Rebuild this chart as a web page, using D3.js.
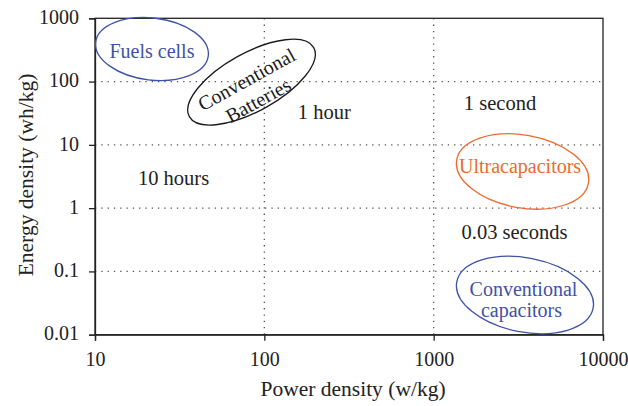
<!DOCTYPE html>
<html><head><meta charset="utf-8">
<script src="https://cdn.jsdelivr.net/npm/d3@7"></script>
<style>body{margin:0;background:#fff}svg{display:block}text{font-family:"Liberation Serif","Times New Roman",serif}</style>
</head><body><svg id="c" width="628" height="406"></svg>
<script>
const xTicks = [10, 100, 1000, 10000];
const yTicks = [0.01, 0.1, 1, 10, 100, 1000];
const xGrid = [100, 1000];
const yGrid = [0.1, 1, 10, 100];
// regions: label lines, centre (power w/kg, energy wh/kg), half-extent in decades, tilt
const regionNames = [["Fuels cells"], ["Conventional", "Batteries"], ["Ultracapacitors"], ["Conventional", "capacitors"]];
const regionPower = [21.7, 84, 3350, 3460];
const regionEnergy = [327, 98, 3.8, 0.0424];
const regionRx = [0.335, 0.42, 0.395, 0.41];
const regionRy = [0.49, 0.46, 0.575, 0.585];
const regionTilt = [7, -29, 10, 11];
const regionColor = ["#3d52a8", "#1a1a1a", "#f0692e", "#3d52a8"];
// time-constant labels
const timeLabels = ["1 hour", "1 second", "10 hours", "0.03 seconds"];
const timePower = [226, 2465, 29.1, 3000];
const timeEnergy = [32.5, 45.9, 2.99, 0.415];

// layout (pixel offsets of label baselines relative to ellipse centres)
const labelOffsets = [[[0, 9]], [[-3, 2], [-3, 26]], [[-2.5, 2]], [[-1.5, 1], [-3.5, 21.5]]];

const svg = d3.select("#c");
const m = {l: 95, r: 603, t: 18.3, b: 334.7};
const x = d3.scaleLog().domain([10, 10000]).range([m.l, m.r]);
const y = d3.scaleLog().domain([0.01, 1000]).range([m.b, m.t]);
const ink = "#222";

// grid
const g = svg.append("g").attr("stroke", "#555").attr("stroke-width", 1.3).attr("stroke-dasharray", "1.3,5");
g.selectAll(".gx").data(xGrid).enter().append("line")
  .attr("x1", d => x(d)).attr("x2", d => x(d)).attr("y1", m.t).attr("y2", m.b);
g.selectAll(".gy").data(yGrid).enter().append("line")
  .attr("y1", d => y(d)).attr("y2", d => y(d)).attr("x1", m.l).attr("x2", m.r);

// frame
svg.append("rect").attr("x", m.l).attr("y", m.t).attr("width", m.r - m.l).attr("height", m.b - m.t)
  .attr("fill", "none").attr("stroke", ink).attr("stroke-width", 1.3);

const fmt = d => d3.format("")(d);
const xa = svg.append("g").attr("transform", `translate(0,${m.b})`)
  .call(d3.axisBottom(x).tickValues(xTicks).tickFormat(fmt).tickSize(6).tickPadding(11));
const ya = svg.append("g").attr("transform", `translate(${m.l},0)`)
  .call(d3.axisLeft(y).tickValues(yTicks).tickFormat(fmt).tickSize(6).tickPadding(10));
[xa, ya].forEach(a => {
  a.select(".domain").attr("stroke", ink).attr("stroke-width", 1.3);
  a.selectAll(".tick line").attr("stroke", ink).attr("stroke-width", 1.3);
  a.selectAll(".tick text").attr("font-size", 20).attr("fill", ink)
    .style("font-family", '"Liberation Serif",serif');
});
ya.selectAll(".tick text").attr("dy", "0.26em");

svg.append("text").attr("x", 353).attr("y", 396).attr("text-anchor", "middle")
  .attr("font-size", 21.5).attr("fill", ink).text("Power density (w/kg)");
svg.append("text").attr("transform", "translate(33,175) rotate(-90)").attr("text-anchor", "middle")
  .attr("font-size", 21.5).attr("fill", ink).text("Energy density (wh/kg)");

// regions
regionNames.forEach((lines, i) => {
  const cx = x(regionPower[i]), cy = y(regionEnergy[i]);
  const rx = x(regionPower[i] * Math.pow(10, regionRx[i])) - cx;
  const ry = cy - y(regionEnergy[i] * Math.pow(10, regionRy[i]));
  svg.append("ellipse").attr("transform", `translate(${cx},${cy}) rotate(${regionTilt[i]})`)
    .attr("rx", rx).attr("ry", ry).attr("fill", "none")
    .attr("stroke", regionColor[i]).attr("stroke-width", 1.3);
  const tg = svg.append("g").attr("transform", `translate(${cx},${cy}) rotate(${i === 1 ? regionTilt[i] : 0})`);
  lines.forEach((t, j) => {
    tg.append("text").attr("x", labelOffsets[i][j][0]).attr("y", labelOffsets[i][j][1])
      .attr("text-anchor", "middle").attr("font-size", 20).attr("fill", regionColor[i]).text(t);
  });
});

// time labels (anchored at text centre)
svg.selectAll(".tl").data(timeLabels).enter().append("text")
  .attr("x", (d, i) => x(timePower[i])).attr("y", (d, i) => y(timeEnergy[i]) + 7)
  .attr("text-anchor", "middle").attr("font-size", 20.5).attr("fill", ink).text(d => d);
</script></body></html>
